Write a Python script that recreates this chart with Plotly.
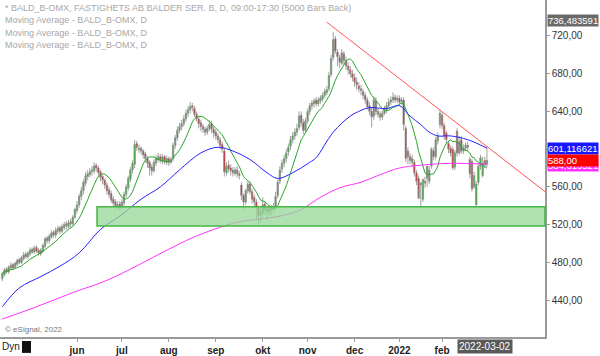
import pandas as pd
import plotly.graph_objects as go

# ---------------- data ----------------
closes = [468, 472, 470, 475, 477, 474, 479, 482, 480, 485,
          488, 486, 490, 493, 491, 495, 492, 490, 493, 498,
          505, 503, 508, 511, 509, 514, 516, 513, 518, 520,
          519, 522, 521, 528, 536, 541, 550, 556, 565, 572,
          574, 576, 578, 582, 580, 575, 570, 567, 562, 556,
          552, 546, 543, 540, 541, 538, 544, 552, 560, 569,
          578, 585, 605, 602, 600, 598, 594, 590, 585, 580,
          577, 586, 590, 592, 588, 592, 587, 590, 586, 589,
          604, 612, 620, 624, 627, 632, 638, 642, 645, 644,
          637, 632, 627, 624, 621, 618, 622, 626, 621, 617,
          614, 610, 604, 600, 576, 582, 579, 577, 575, 578,
          574, 572, 551, 544, 556, 563, 555, 547, 544, 538,
          530, 533, 541, 536, 534, 538, 536, 539, 550, 565,
          578, 585, 590, 596, 602, 610, 614, 618, 622, 635,
          628, 620, 630, 640, 646, 649, 651, 648, 652, 654,
          657, 661, 663, 678, 696, 716, 704, 698, 692, 702,
          694, 688, 684, 680, 676, 671, 668, 664, 662, 657,
          652, 645, 640, 634, 652, 640, 637, 634, 638, 642,
          646, 650, 652, 655, 652, 654, 650, 652, 626, 590,
          592, 588, 590, 575, 566, 548, 564, 568, 566, 582,
          578, 600, 592, 610, 614, 638, 625, 614, 610, 600,
          596, 580, 596, 596, 608, 598, 601, 604, 602, 574,
          558, 572, 563, 582, 591, 585, 584, 588]

opens = [463, 467, 473, 470, 474, 478, 475, 478, 483, 480,
         484, 489, 486, 489, 494, 491, 496, 493, 489, 492,
         497, 506, 503, 507, 512, 509, 513, 517, 513, 517,
         521, 518, 523, 521, 528, 535, 541, 550, 556, 564,
         571, 573, 576, 577, 583, 580, 576, 571, 567, 562,
         557, 553, 547, 544, 539, 542, 538, 543, 552, 559,
         568, 578, 584, 606, 601, 601, 598, 595, 590, 586,
         581, 577, 585, 589, 592, 587, 592, 586, 590, 586,
         590, 604, 612, 620, 624, 627, 632, 638, 642, 646,
         643, 637, 632, 628, 624, 621, 618, 622, 627, 621,
         618, 614, 610, 605, 598, 575, 583, 580, 578, 574,
         578, 574, 562, 551, 544, 556, 563, 555, 549, 544,
         538, 530, 532, 542, 536, 534, 539, 536, 539, 551,
         566, 579, 585, 590, 597, 603, 610, 614, 618, 623,
         636, 628, 620, 630, 640, 646, 648, 652, 648, 651,
         653, 657, 660, 664, 679, 697, 717, 703, 697, 691,
         701, 694, 688, 684, 680, 676, 671, 667, 664, 661,
         657, 652, 646, 640, 635, 651, 640, 637, 634, 638,
         642, 646, 650, 652, 655, 652, 654, 650, 652, 622,
         598, 592, 586, 586, 575, 569, 562, 547, 564, 569,
         566, 582, 598, 592, 609, 626, 636, 625, 617, 606,
         601, 600, 581, 619, 596, 610, 598, 601, 604, 589,
         587, 560, 541, 565, 582, 572, 588, 584]

highs = [470, 474, 475, 477, 480, 479, 481, 484, 485, 487,
         491, 491, 492, 496, 496, 498, 498, 495, 495, 500,
         507, 508, 510, 514, 514, 517, 519, 519, 521, 523,
         524, 525, 526, 530, 538, 545, 553, 560, 568, 576,
         578, 580, 582, 586, 585, 582, 578, 573, 569, 565,
         560, 556, 550, 547, 545, 545, 547, 555, 563, 572,
         581, 588, 610, 609, 605, 603, 600, 597, 593, 588,
         584, 589, 594, 596, 595, 595, 594, 593, 592, 592,
         607, 615, 624, 628, 631, 636, 642, 646, 650, 649,
         646, 640, 635, 631, 627, 624, 625, 631, 630, 624,
         621, 617, 613, 608, 601, 586, 588, 584, 581, 581,
         582, 577, 565, 553, 558, 566, 566, 558, 552, 547,
         540, 537, 549, 545, 539, 541, 541, 543, 555, 568,
         582, 589, 594, 600, 606, 614, 618, 622, 627, 640,
         640, 632, 633, 643, 649, 652, 654, 655, 655, 657,
         660, 664, 667, 682, 700, 724, 720, 706, 700, 706,
         704, 698, 692, 688, 684, 680, 676, 671, 668, 664,
         660, 655, 650, 644, 656, 655, 643, 640, 641, 646,
         650, 654, 656, 660, 658, 657, 657, 655, 655, 625,
         602, 596, 594, 589, 578, 572, 565, 568, 571, 571,
         582, 602, 602, 613, 618, 642, 639, 628, 619, 609,
         604, 603, 599, 622, 614, 614, 605, 607, 608, 592,
         590, 576, 566, 585, 594, 592, 592, 602]

lows = [460, 465, 468, 468, 472, 472, 473, 476, 478, 478,
        482, 484, 484, 487, 489, 489, 490, 487, 487, 490,
        495, 500, 500, 505, 506, 506, 510, 510, 511, 514,
        515, 516, 517, 519, 526, 532, 538, 546, 552, 561,
        567, 570, 572, 574, 576, 571, 566, 563, 558, 552,
        548, 543, 540, 536, 537, 535, 536, 540, 549, 556,
        565, 574, 580, 598, 596, 594, 590, 586, 580, 572,
        572, 575, 582, 586, 585, 584, 584, 583, 582, 584,
        587, 600, 609, 617, 620, 624, 629, 634, 638, 640,
        634, 629, 622, 619, 617, 614, 615, 619, 617, 612,
        610, 606, 600, 596, 571, 572, 575, 572, 571, 572,
        570, 568, 546, 536, 541, 553, 552, 542, 538, 526,
        518, 522, 528, 530, 525, 529, 530, 532, 536, 548,
        563, 575, 581, 586, 593, 599, 606, 610, 614, 620,
        624, 616, 618, 627, 636, 642, 644, 645, 645, 648,
        650, 654, 657, 661, 676, 694, 701, 688, 686, 689,
        690, 684, 679, 676, 672, 666, 663, 660, 657, 653,
        648, 642, 636, 623, 631, 636, 633, 630, 631, 636,
        638, 643, 647, 649, 649, 649, 646, 647, 620, 586,
        584, 584, 582, 571, 562, 558, 539, 544, 559, 560,
        563, 579, 588, 589, 605, 622, 621, 610, 606, 596,
        592, 578, 578, 592, 594, 595, 595, 598, 598, 569,
        555, 558, 540, 562, 578, 570, 580, 581]

# slower moving averages, read at sample bars
ma_blue_idx = [0, 8, 18, 27, 36, 46, 55, 65, 74, 83, 93, 101, 108, 116, 124, 129,
               136, 144, 147, 155, 163, 168, 172, 180, 186, 191, 196, 200, 204,
               210, 218, 227]
ma_blue_val = [433, 453, 465, 476, 490, 515, 529, 547, 560, 578, 596, 602, 598, 589,
               575, 569, 575, 586, 591, 618, 635, 641, 644, 643, 646, 635, 626, 618,
               614, 614, 610, 601.1]
ma_mag_idx = [0, 16, 33, 50, 91, 111, 121, 130, 139, 149, 158, 168, 177, 186, 196, 210, 227]
ma_mag_val = [420, 433, 448, 462, 508, 523, 526, 529, 535, 549, 559, 565, 573, 580,
              583, 585, 584]

month_labels = ["jun", "jul", "aug", "sep", "okt", "nov", "dec", "2022", "feb"]
zone_low, zone_high = 518.5, 539.0
trend_start, trend_end = 734.6, 555.0
last_close = 588.00
blue_last = 601.116621
mag_last = 584.0
top_marker = 736.483591

holidays = ["2021-04-02", "2021-04-05", "2021-05-13", "2021-06-25",
            "2021-12-24", "2021-12-31", "2022-01-06"]

# ---------------- derived ----------------
N = len(closes)
dates = pd.bdate_range(end="2022-03-02", periods=N, freq="C", holidays=holidays)
idx = list(range(N))
ma_green = pd.Series(closes).rolling(10, min_periods=1).mean()

tickvals = []
seen = set()
for i, d in enumerate(dates):
    key = (d.year, d.month)
    if key not in seen:
        seen.add(key)
        if (d.year == 2021 and d.month >= 6) or (d.year == 2022 and d.month <= 2):
            tickvals.append(i)

FONT = "Liberation Sans, Arial, sans-serif"

fig = go.Figure()
fig.add_trace(go.Candlestick(
    x=idx, open=opens, high=highs, low=lows, close=closes,
    increasing=dict(line=dict(color="#8a8a8a", width=0.8), fillcolor="#1fc01f"),
    decreasing=dict(line=dict(color="#8a8a8a", width=0.8), fillcolor="#e01010"),
    whiskerwidth=0, showlegend=False, hoverinfo="skip"))
fig.add_trace(go.Scatter(x=idx, y=ma_green, mode="lines",
                         line=dict(color="#2aa52a", width=1), showlegend=False))
fig.add_trace(go.Scatter(x=ma_blue_idx, y=ma_blue_val, mode="lines",
                         line=dict(color="#2424ff", width=1, shape="spline"),
                         showlegend=False))
fig.add_trace(go.Scatter(x=ma_mag_idx, y=ma_mag_val, mode="lines",
                         line=dict(color="#ff30ff", width=1, shape="spline"),
                         showlegend=False))

shapes = [
    dict(type="rect", xref="paper", yref="y", x0=97 / 545, x1=1, y0=zone_low, y1=zone_high,
         fillcolor="rgba(150,215,150,0.75)", line=dict(color="#44b844", width=1.5),
         layer="above"),
    dict(type="line", xref="paper", yref="y", x0=326.7 / 545, x1=1,
         y0=trend_start, y1=trend_end, line=dict(color="#ff5555", width=1)),
    dict(type="rect", xref="paper", yref="paper", x0=22 / 545, x1=31 / 545,
         y0=-16 / 339, y1=-4 / 339, fillcolor="#111111", line=dict(width=0)),
]

ann = []
legend_lines = ["* BALD_B-OMX, FASTIGHETS AB BALDER SER. B, D, 09:00-17:30 (5000 Bars Back)",
                "Moving Average - BALD_B-OMX, D",
                "Moving Average - BALD_B-OMX, D",
                "Moving Average - BALD_B-OMX, D"]
for k, t in enumerate(legend_lines):
    ann.append(dict(text=t, xref="paper", yref="paper", x=3 / 545, y=1 - (8 + 12.5 * k) / 339,
                    xanchor="left", yanchor="middle", showarrow=False,
                    font=dict(family=FONT, size=9, color="#a8a8a8")))
ann.append(dict(text="© eSignal, 2022", xref="paper", yref="paper", x=3 / 545, y=8 / 339,
                xanchor="left", yanchor="middle", showarrow=False,
                font=dict(family=FONT, size=8, color="#777777")))
ann.append(dict(text="Dyn", xref="paper", yref="paper", x=0, y=-10 / 339,
                xanchor="left", yanchor="middle", showarrow=False,
                font=dict(family=FONT, size=10, color="#222222")))
ann.append(dict(text="2022-03-02", xref="paper", yref="paper", x=485 / 545, y=-10 / 339,
                xanchor="center", yanchor="middle", showarrow=False, bgcolor="#5a5a5a",
                borderpad=1, font=dict(family=FONT, size=10, color="#ffffff")))


def flag(val, text, bg, yshift=0):
    return dict(text=text, xref="paper", yref="y", x=1, y=val, xanchor="left",
                yanchor="middle", xshift=2, yshift=yshift, showarrow=False, bgcolor=bg,
                width=50, align="left", borderpad=0,
                font=dict(family=FONT, size=9.5, color="#ffffff"))


ann.append(flag(top_marker, "736,483591", "#6a6a6a"))
ann.append(flag(blue_last, "601,116621", "#1818ff"))
ann.append(flag(mag_last, "584,613521", "#ff30ff", yshift=-1))
ann.append(flag(last_close, "588,00", "#ff0000"))

fig.update_layout(
    width=600, height=356,
    margin=dict(l=0, r=55, t=0, b=17),
    paper_bgcolor="white", plot_bgcolor="white",
    separators=", ",
    boxgap=0.12,
    font=dict(family=FONT, size=10, color="#333333"),
    shapes=shapes, annotations=ann, showlegend=False,
    xaxis=dict(range=[-1.08, 254.2], rangeslider=dict(visible=False),
               tickmode="array", tickvals=tickvals,
               ticktext=["<b>%s</b>" % m for m in month_labels],
               showgrid=False, zeroline=False, showline=True, linecolor="#9a9a9a",
               linewidth=1.5, ticks="outside", ticklen=3, tickcolor="#9a9a9a",
               tickfont=dict(family=FONT, size=10, color="#222222")),
    yaxis=dict(range=[401, 758], side="right", tickmode="array",
               tickvals=[440, 480, 520, 560, 600, 640, 680, 720],
               tickformat=".2f", showgrid=False, zeroline=False, showline=True,
               linecolor="#9a9a9a", linewidth=1.5, ticks="outside", ticklen=3,
               tickcolor="#9a9a9a", tickfont=dict(family=FONT, size=10, color="#333333")),
)

fig.write_html("out.html", config={"displayModeBar": False},
               post_script="document.body.style.margin='0';")
